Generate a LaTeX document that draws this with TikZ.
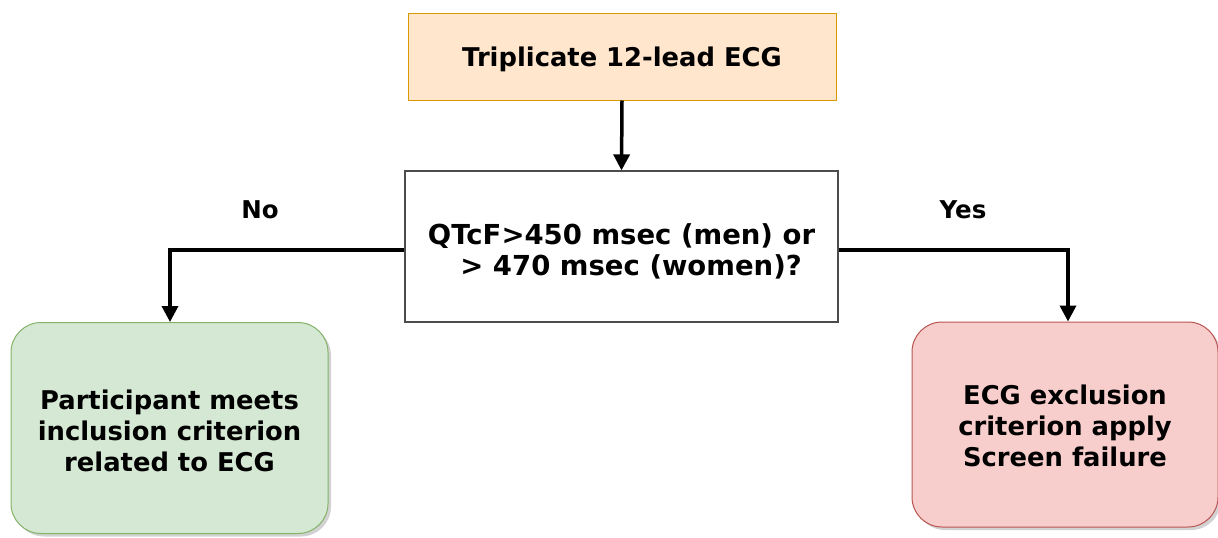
\documentclass[tikz,border=0pt]{standalone}
\usepackage{fontspec}
\setmainfont{DejaVu Sans}
\usetikzlibrary{arrows.meta,shadows}
\definecolor{topfill}{HTML}{FFE6CC}
\definecolor{topdraw}{HTML}{D79B00}
\definecolor{gfill}{HTML}{D5E8D4}
\definecolor{gdraw}{HTML}{82B366}
\definecolor{rfill}{HTML}{F8CECC}
\definecolor{rdraw}{HTML}{B85450}
\newcommand{\lowstrut}[1]{\rule{0pt}{#1}}
\tikzset{
  txt/.style={font=\fontsize{25.8}{31}\selectfont\bfseries, align=center, inner sep=0pt},
  conn/.style={line width=3.5pt, -{Triangle[length=16pt,width=16pt]}},
  lbl/.style={font=\fontsize{24.5}{28}\selectfont\bfseries, inner sep=0pt},
}
\begin{document}
\begin{tikzpicture}[x=1pt,y=-1pt]
\useasboundingbox (0,0) rectangle (1218,538);
\node[txt, draw=topdraw, fill=topfill, line width=1pt, minimum width=428pt, minimum height=87pt] (top) at (622,56.5) {\lowstrut{26pt}Triplicate 12-lead ECG};
\node[txt, font=\fontsize{27.5}{31}\selectfont\bfseries, draw=black!70, fill=white, line width=1.2pt, minimum width=433pt, minimum height=151pt] (dec) at (621.5,246.5) {\lowstrut{31pt}QTcF>450 msec (men) or\\\ \ > 470 msec (women)?};
\node[txt, draw=gdraw, fill=gfill, line width=1pt, rounded corners=30pt, minimum width=317pt, minimum height=211pt,
  drop shadow={shadow xshift=3pt, shadow yshift=-3pt, fill=black!35}] (inc) at (169.5,428) {\lowstrut{26pt}Participant meets\\inclusion criterion\\related to ECG};
\node[txt, draw=rdraw, fill=rfill, line width=1pt, rounded corners=30pt, minimum width=306pt, minimum height=205pt,
  drop shadow={shadow xshift=3pt, shadow yshift=-3pt, fill=black!35}] (exc) at (1065,424.5) {\lowstrut{22pt}ECG exclusion\\criterion apply\\Screen failure};
\draw[conn] (top.south) -- (dec.north);
\coordinate (lc) at (170,250);
\coordinate (rc) at (1068,250);
\draw[conn] (dec.west |- lc) -- (lc) -- (lc |- inc.north);
\draw[conn] (dec.east |- rc) -- (rc) -- (rc |- exc.north);
\node[lbl] (no) at (260,210) {No};
\node[lbl] (yes) at (963,210) {Yes};
\end{tikzpicture}
\end{document}
